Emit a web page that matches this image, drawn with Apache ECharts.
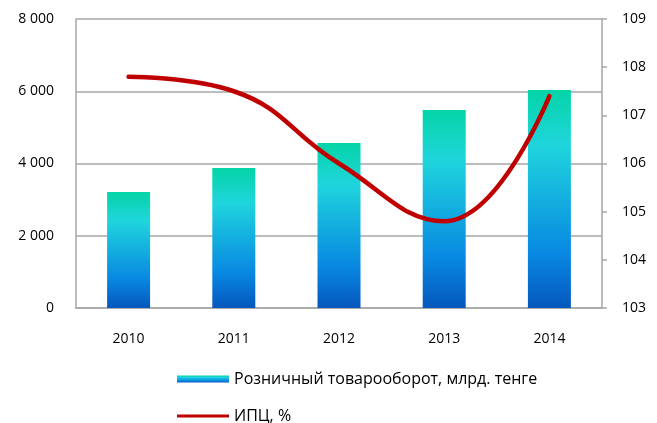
<!DOCTYPE html>
<html lang="ru">
<head>
    <meta charset="UTF-8">
    <title>Розничный товарооборот и ИПЦ</title>
    <script src="https://cdn.jsdelivr.net/npm/echarts@6/dist/echarts.min.js"></script>
</head>
<body style="margin:0;">
<div id="main" style="width:657px;height:423px;"></div>
<script type="text/javascript">
    // данные с графика
    var years = ['2010', '2011', '2012', '2013', '2014'];
    var turnover = [3210, 3875, 4570, 5480, 6035];   // млрд. тенге
    var cpi = [107.8, 107.5, 106.0, 104.8, 107.4];   // %

    var barName = 'Розничный товарооборот, млрд. тенге';
    var lineName = 'ИПЦ, %';

    var barGradient = new echarts.graphic.LinearGradient(0, 0, 0, 1, [
        {offset: 0, color: '#04d4a6'},
        {offset: 0.25, color: '#1fd5dc'},
        {offset: 0.75, color: '#0888e2'},
        {offset: 1, color: '#0557bd'}
    ]);
    var gridLine = {show: true, lineStyle: {color: '#a6a6a6', width: 1.5}};
    var font = '"Open Sans", "Noto Sans", sans-serif';

    var myChart = echarts.init(document.getElementById('main'));
    myChart.setOption({
        animation: false,
        textStyle: {fontFamily: font},
        grid: {left: 76, right: 55, top: 19, bottom: 115},
        legend: [{
            left: 172, top: 366,
            itemWidth: 52, itemHeight: 7, itemGap: 4,
            icon: 'rect',
            textStyle: {fontSize: 16, color: '#000', fontFamily: font},
            data: [barName]
        }, {
            left: 172, top: 403,
            itemWidth: 52, itemHeight: 3, itemGap: 4,
            icon: 'rect',
            textStyle: {fontSize: 16, color: '#000', fontFamily: font},
            data: [lineName]
        }],
        xAxis: {
            type: 'category',
            data: years,
            axisLine: {lineStyle: {color: '#a6a6a6', width: 1.5}},
            axisTick: {show: false},
            axisLabel: {color: '#000', fontSize: 14, margin: 24}
        },
        yAxis: [{
            type: 'value',
            min: 0, max: 8000, interval: 2000,
            axisLine: gridLine,
            axisTick: {show: false},
            splitLine: gridLine,
            axisLabel: {
                color: '#000', fontSize: 14, margin: 22,
                formatter: function (v) {
                    return v >= 1000 ? Math.floor(v / 1000) + ' ' + String(v % 1000).padStart(3, '0') : String(v);
                }
            }
        }, {
            type: 'value',
            min: 103, max: 109, interval: 1,
            position: 'right',
            axisLine: gridLine,
            axisTick: {show: true, length: 5, lineStyle: {color: '#a6a6a6', width: 1.5}},
            splitLine: {show: false},
            axisLabel: {color: '#000', fontSize: 14, margin: 20}
        }],
        series: [{
            name: barName,
            type: 'bar',
            data: turnover,
            barWidth: 43,
            itemStyle: {color: barGradient}
        }, {
            name: lineName,
            type: 'line',
            yAxisIndex: 1,
            data: cpi,
            smooth: 0.45,
            symbol: 'none',
            lineStyle: {color: '#c00000', width: 4.5, cap: 'round'},
            itemStyle: {color: '#c00000'}
        }]
    });
</script>
</body>
</html>
